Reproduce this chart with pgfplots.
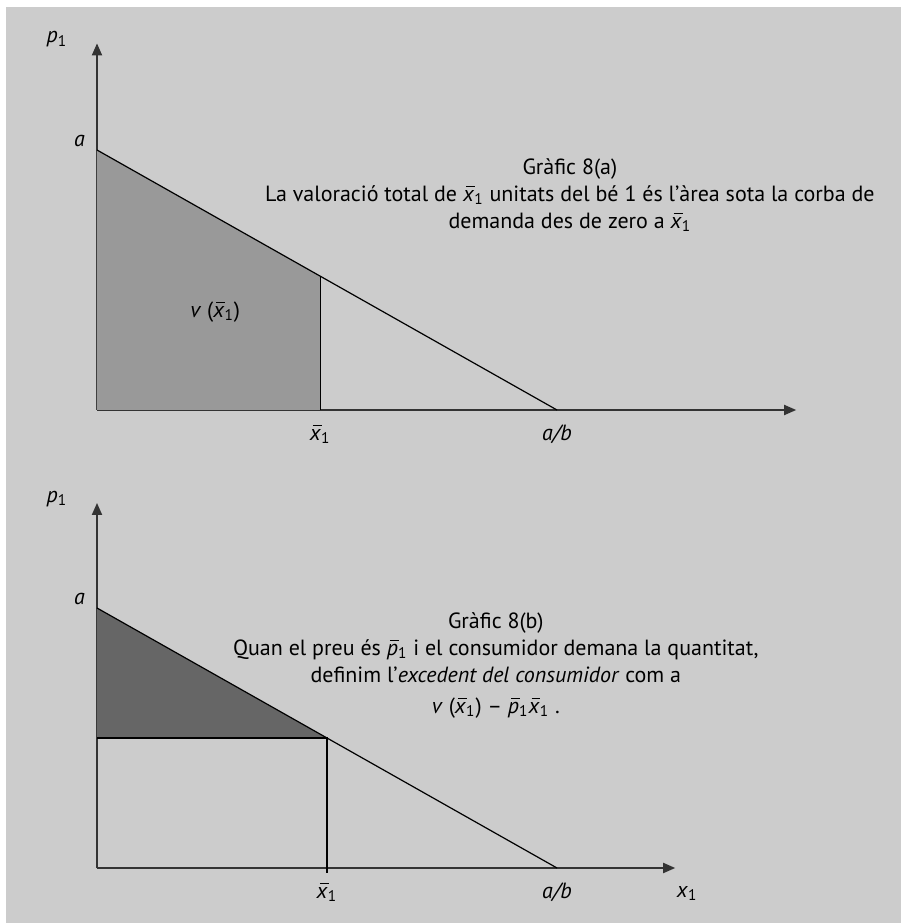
\documentclass[border=0pt]{standalone}
\usepackage{fontspec}
\setmainfont{PT Sans}
\usepackage{pgfplots}
\pgfplotsset{compat=1.18}
\usetikzlibrary{arrows.meta}

\definecolor{bg}{HTML}{CCCCCC}
\definecolor{midfill}{HTML}{999999}
\definecolor{darkfill}{HTML}{666666}
\definecolor{axiscol}{HTML}{333333}

% italic letter with a bar over it
\newcommand{\barred}[1]{\leavevmode{\setbox0=\hbox{\textit{#1}}%
  \rlap{\hspace{0.28\wd0}\rule[0.64em]{0.78\wd0}{0.05em}}\box0}}
\newcommand{\xb}{\barred{x}\textsubscript{1}}
\newcommand{\pb}{\barred{p}\textsubscript{1}}
\newcommand{\txt}{\fontsize{11}{13.5}\selectfont}

\pgfplotsset{
  demand/.style={
    x=23pt, y=13pt,
    xmin=0, ymin=0,
    enlargelimits=false,
    clip=false,
    axis lines=left,
    axis line style={draw=axiscol, line width=0.9pt, -{Triangle[length=6pt,width=5pt]}},
    major tick length=0pt,
    tick label style={font=\txt},
    xticklabel style={anchor=north, yshift=-4pt},
    yticklabel style={anchor=east, xshift=-2.5pt, yshift=4.5pt},
    ytick={10}, yticklabels={\textit{a}},
  },
}

\begin{document}
\begin{tikzpicture}
  % page and panel background
  \fill[white] (0,0) rectangle (450.5pt,461.5pt);
  \fill[bg] (3pt,0) rectangle (450.5pt,458pt);

  % (a) total valuation as the area under the demand curve
  \begin{axis}[demand, at={(48.5pt,256.5pt)}, anchor=south west,
      xmax=15.2, ymax=14.1,
      xtick={4.85,10}, xticklabels={\xb, \textit{a/b}}]
    \addplot[draw=none, fill=midfill] coordinates {(0,0) (0,10) (4.85,5.15) (4.85,0)} -- cycle;
    \addplot[black, line width=0.6pt] coordinates {(4.85,0) (4.85,5.15)};
    \addplot[black, line width=0.6pt] coordinates {(0,10) (10,0)};
    \node[font=\txt] at (axis cs:2.57,3.77) {\textit{v} (\xb)};
    \node[font=\txt] at (axis cs:-0.87,14.25) {\textit{p}\textsubscript{1}};
    \node[font=\txt, align=center] at (axis cs:10.28,8.27)
      {Gràfic 8(a)\\
       La valoració total de \xb{} unitats del bé 1 és l’àrea sota la corba de\\
       demanda des de zero a \xb};
  \end{axis}

  % (b) consumer surplus at price p1 bar
  \begin{axis}[demand, at={(48.5pt,27.5pt)}, anchor=south west,
      xmax=12.57, ymax=14.04,
      xtick={5,10}, xticklabels={\xb, \textit{a/b}}]
    \addplot[draw=none, fill=darkfill] coordinates {(0,10) (5,5) (0,5)} -- cycle;
    \addplot[black, line width=0.6pt] coordinates {(0,5) (5,5) (5,-0.2)};
    \addplot[black, line width=0.6pt] coordinates {(0,10) (10,0)};
    \node[font=\txt] at (axis cs:-0.87,14.2) {\textit{p}\textsubscript{1}};
    \node[font=\txt] at (axis cs:12.83,-0.98) {\textit{x}\textsubscript{1}};
    \node[font=\txt, align=center] at (axis cs:8.67,7.79)
      {Gràfic 8(b)\\
       Quan el preu és \pb{} i el consumidor demana la quantitat,\\
       definim l’\textit{excedent del consumidor} com a\\[2pt]
       \textit{v} (\xb) – \pb\xb{} .};
  \end{axis}
\end{tikzpicture}
\end{document}
